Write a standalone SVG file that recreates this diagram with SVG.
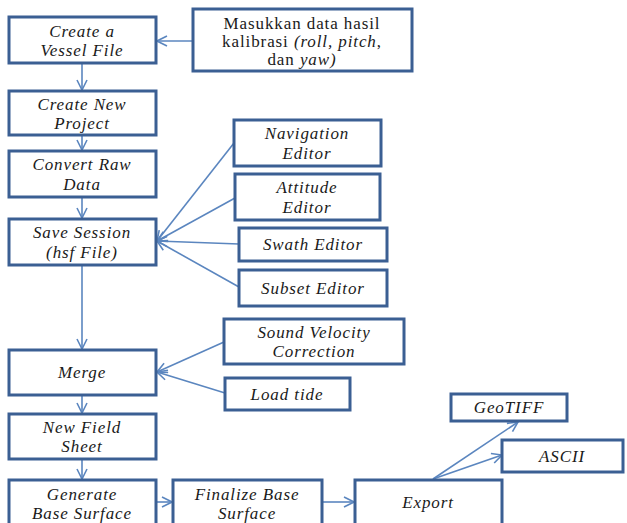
<svg xmlns="http://www.w3.org/2000/svg" width="627" height="523" viewBox="0 0 627 523">
<defs>
<style>
.box{fill:#fff;stroke:#3b5f93;stroke-width:3}
.t{font-size:17px;font-style:italic;fill:#1a1a1a;text-anchor:middle;letter-spacing:0.9px}
.r{font-style:normal}
.c{fill:none;stroke:#5b86bf;stroke-width:1.6}
</style>
<marker id="ah" viewBox="0 0 12 12" refX="11" refY="6" markerWidth="12" markerHeight="12" markerUnits="userSpaceOnUse" orient="auto">
<path d="M1,1 L11,6 L1,11" fill="none" stroke="#5b86bf" stroke-width="1.6"/>
</marker>
</defs>
<rect width="627" height="523" fill="#fff"/>
<g id="connectors">
<line class="c" x1="193" y1="41" x2="157" y2="41" marker-end="url(#ah)"/>
<line class="c" x1="82" y1="63" x2="82" y2="90" marker-end="url(#ah)"/>
<line class="c" x1="82" y1="135" x2="82" y2="150" marker-end="url(#ah)"/>
<line class="c" x1="82" y1="197" x2="82" y2="218" marker-end="url(#ah)"/>
<line class="c" x1="234" y1="143" x2="157" y2="241" marker-end="url(#ah)"/>
<line class="c" x1="235" y1="198" x2="157" y2="241" marker-end="url(#ah)"/>
<line class="c" x1="239" y1="244" x2="157" y2="241" marker-end="url(#ah)"/>
<line class="c" x1="239" y1="287" x2="157" y2="241" marker-end="url(#ah)"/>
<line class="c" x1="82" y1="265" x2="82" y2="349" marker-end="url(#ah)"/>
<line class="c" x1="224" y1="342" x2="157" y2="372" marker-end="url(#ah)"/>
<line class="c" x1="225" y1="393" x2="157" y2="372" marker-end="url(#ah)"/>
<line class="c" x1="82" y1="395" x2="82" y2="413" marker-end="url(#ah)"/>
<line class="c" x1="82" y1="459" x2="82" y2="479" marker-end="url(#ah)"/>
<line class="c" x1="156" y1="502" x2="172" y2="502" marker-end="url(#ah)"/>
<line class="c" x1="322" y1="502" x2="354" y2="502" marker-end="url(#ah)"/>
<line class="c" x1="433" y1="479" x2="518" y2="422" marker-end="url(#ah)"/>
<line class="c" x1="433" y1="479" x2="502" y2="455" marker-end="url(#ah)"/>
</g>
<g font-family="'Liberation Serif', 'Times New Roman', 'DejaVu Serif', serif">
<g id="vessel"><rect class="box" x="9" y="17" width="147" height="46"/><text class="t" x="82" y="37">Create a</text><text class="t" x="82" y="56">Vessel File</text></g>
<g id="masukkan"><rect class="box" x="193" y="9" width="219" height="62"/><text class="t r" x="302" y="29">Masukkan data hasil</text><text class="t r" x="302" y="47">kalibrasi  <tspan font-style="italic">(roll, pitch</tspan>,</text><text class="t r" x="302" y="65">dan <tspan font-style="italic">yaw)</tspan></text></g>
<g id="project"><rect class="box" x="9" y="91" width="147" height="44"/><text class="t" x="82" y="110">Create New</text><text class="t" x="82" y="129">Project</text></g>
<g id="convert"><rect class="box" x="9" y="151" width="147" height="46"/><text class="t" x="82" y="170">Convert Raw</text><text class="t" x="82" y="190">Data</text></g>
<g id="save"><rect class="box" x="9" y="219" width="147" height="46"/><text class="t" x="82" y="238">Save Session</text><text class="t" x="82" y="258">(hsf File)</text></g>
<g id="nav"><rect class="box" x="234" y="120" width="147" height="46"/><text class="t" x="307" y="139">Navigation</text><text class="t" x="307" y="159">Editor</text></g>
<g id="att"><rect class="box" x="235" y="174" width="145" height="46"/><text class="t" x="307" y="193">Attitude</text><text class="t" x="307" y="213">Editor</text></g>
<g id="swath"><rect class="box" x="239" y="228" width="148" height="33"/><text class="t" x="313" y="250">Swath Editor</text></g>
<g id="subset"><rect class="box" x="239" y="270" width="148" height="36"/><text class="t" x="313" y="294">Subset  Editor</text></g>
<g id="merge"><rect class="box" x="9" y="350" width="147" height="45"/><text class="t" x="82" y="378">Merge</text></g>
<g id="svc"><rect class="box" x="224" y="319" width="180" height="45"/><text class="t" x="314" y="338">Sound Velocity</text><text class="t" x="314" y="357">Correction</text></g>
<g id="tide"><rect class="box" x="225" y="378" width="125" height="32"/><text class="t" x="287" y="400">Load tide</text></g>
<g id="field"><rect class="box" x="9" y="414" width="147" height="45"/><text class="t" x="82" y="433">New Field</text><text class="t" x="82" y="452">Sheet</text></g>
<g id="generate"><rect class="box" x="9" y="480" width="147" height="48"/><text class="t" x="82" y="500">Generate</text><text class="t" x="82" y="519">Base Surface</text></g>
<g id="finalize"><rect class="box" x="173" y="480" width="149" height="48"/><text class="t" x="247" y="500">Finalize Base</text><text class="t" x="247" y="519">Surface</text></g>
<g id="export"><rect class="box" x="355" y="480" width="147" height="48"/><text class="t" x="428" y="508">Export</text></g>
<g id="geotiff"><rect class="box" x="451" y="394" width="116" height="27"/><text class="t" x="509" y="413">GeoTIFF</text></g>
<g id="ascii"><rect class="box" x="502" y="440" width="121" height="32"/><text class="t" x="562" y="462">ASCII</text></g>
</g>
</svg>
